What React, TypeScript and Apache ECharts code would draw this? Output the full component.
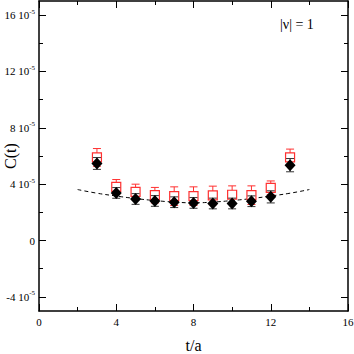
import React, { useEffect, useRef } from "react";
import * as echarts from "echarts";

// values in units of 1e-5
const tValues = [3, 4, 5, 6, 7, 8, 9, 10, 11, 12, 13];
const blackValues = [5.47, 3.38, 2.95, 2.81, 2.72, 2.67, 2.63, 2.63, 2.79, 3.1, 5.35];
const blackErrors = [0.42, 0.38, 0.38, 0.38, 0.38, 0.38, 0.38, 0.38, 0.38, 0.43, 0.47];
const redValues = [5.9, 3.81, 3.45, 3.22, 3.15, 3.15, 3.2, 3.25, 3.22, 3.74, 5.9];
const redErrors = [0.63, 0.52, 0.55, 0.55, 0.66, 0.66, 0.66, 0.63, 0.66, 0.49, 0.59];
const fitT = [2, 3, 4, 5, 6, 7, 8, 9, 10, 11, 12, 13, 14];
const fitValues = [3.62, 3.36, 3.16, 2.98, 2.84, 2.73, 2.68, 2.73, 2.84, 2.98, 3.16, 3.36, 3.62];
const yMajorTicks = [-4, 0, 4, 8, 12, 16];
const yMinorTicks = [-2, 2, 6, 10, 14];
const annotation = "|ν| = 1";
const yTitle = "C(t)";

const FONT = "'Liberation Serif', 'DejaVu Serif', serif";

function errorBars(color: string, cap: number) {
  return (params: any, api: any) => {
    const x = api.value(0);
    const y = api.value(1);
    const e = api.value(2);
    const top = api.coord([x, y + e]);
    const bot = api.coord([x, y - e]);
    const style = { stroke: color, lineWidth: 1 };
    return {
      type: "group",
      children: [
        { type: "line", shape: { x1: top[0], y1: top[1], x2: bot[0], y2: bot[1] }, style },
        { type: "line", shape: { x1: top[0] - cap, y1: top[1], x2: top[0] + cap, y2: top[1] }, style },
        { type: "line", shape: { x1: bot[0] - cap, y1: bot[1], x2: bot[0] + cap, y2: bot[1] }, style },
      ],
    };
  };
}

export default function App() {
  const ref = useRef<HTMLDivElement>(null);
  useEffect(() => {
    if (!ref.current) return;
    const chart = echarts.init(ref.current, null, { renderer: "svg" });
    const axisLine = { show: true, onZero: false, lineStyle: { color: "#000", width: 1.5 } };
    const noLine = { show: false, onZero: false };
    const yBase = { type: "value", min: -5, max: 17, splitLine: { show: false } };
    const labelFmt = (v: number) => (v === 0 ? "{a|0}" : `{a|${v} 10}{b|-5}`);
    chart.setOption({
      animation: false,
      backgroundColor: "#fff",
      grid: { left: 39, right: 6, top: 1, bottom: 43, containLabel: false, outerBoundsMode: "none" },
      xAxis: [
        {
          type: "value", min: 0, max: 16, interval: 4, position: "bottom",
          axisLine, splitLine: { show: false },
          axisTick: { show: true, inside: true, length: 7, lineStyle: { color: "#000" } },
          minorTick: { show: true, splitNumber: 2, length: 4, lineStyle: { color: "#000" } },
          axisLabel: { color: "#000", fontFamily: FONT, fontSize: 11, margin: 5 },
          name: "t/a", nameLocation: "middle", nameGap: 26,
          nameTextStyle: { color: "#000", fontFamily: FONT, fontSize: 16 },
        },
        {
          type: "value", min: 0, max: 16, interval: 4, position: "top",
          axisLine, splitLine: { show: false },
          axisTick: { show: true, inside: true, length: 7, lineStyle: { color: "#000" } },
          minorTick: { show: true, splitNumber: 2, length: 4, lineStyle: { color: "#000" } },
          axisLabel: { show: false },
        },
      ],
      yAxis: [
        {
          ...yBase, position: "left", axisLine,
          axisTick: { show: true, inside: true, length: 7, customValues: yMajorTicks, lineStyle: { color: "#000" } },
          axisLabel: {
            customValues: yMajorTicks, formatter: labelFmt, margin: 4,
            rich: {
              a: { fontFamily: FONT, fontSize: 11, color: "#000", lineHeight: 14 },
              b: { fontFamily: FONT, fontSize: 7, color: "#000", lineHeight: 7, verticalAlign: "top" },
            },
          },
        },
        {
          ...yBase, position: "left", axisLine: noLine,
          axisTick: { show: true, inside: true, length: 4, customValues: yMinorTicks, lineStyle: { color: "#000" } },
          axisLabel: { show: false },
        },
        {
          ...yBase, position: "right", axisLine,
          axisTick: { show: true, inside: true, length: 7, customValues: yMajorTicks, lineStyle: { color: "#000" } },
          axisLabel: { show: false },
        },
        {
          ...yBase, position: "right", axisLine: noLine,
          axisTick: { show: true, inside: true, length: 4, customValues: yMinorTicks, lineStyle: { color: "#000" } },
          axisLabel: { show: false },
        },
      ],
      graphic: [
        {
          type: "text", left: 280, top: 17,
          style: { text: annotation, fontFamily: FONT, fontSize: 14, fill: "#000" },
        },
        {
          type: "text", x: 10, y: 156, rotation: Math.PI / 2,
          style: { text: yTitle, fontFamily: FONT, fontSize: 16, fill: "#000", align: "center", verticalAlign: "middle" },
        },
      ],
      series: [
        {
          type: "line", data: fitT.map((t, i) => [t, fitValues[i]]), smooth: true,
          symbol: "none", lineStyle: { color: "#000", width: 1, type: [4, 3] }, z: 1,
        },
        {
          type: "custom", renderItem: errorBars("#ff3030", 4),
          data: tValues.map((t, i) => [t, redValues[i], redErrors[i]]), z: 2,
        },
        {
          type: "scatter", data: tValues.map((t, i) => [t, redValues[i]]),
          symbol: "rect", symbolSize: 9,
          itemStyle: { color: "#fff", borderColor: "#ff3030", borderWidth: 1.2, opacity: 1 }, z: 3,
        },
        {
          type: "custom", renderItem: errorBars("#333", 4),
          data: tValues.map((t, i) => [t, blackValues[i], blackErrors[i]]), z: 4,
        },
        {
          type: "scatter", data: tValues.map((t, i) => [t, blackValues[i]]),
          symbol: "diamond", symbolSize: [11, 12],
          itemStyle: { color: "#000", opacity: 1 }, z: 5,
        },
      ],
    });
    return () => chart.dispose();
  }, []);
  return <div ref={ref} style={{ position: "fixed", left: 0, top: 0, width: 354, height: 354 }} />;
}
